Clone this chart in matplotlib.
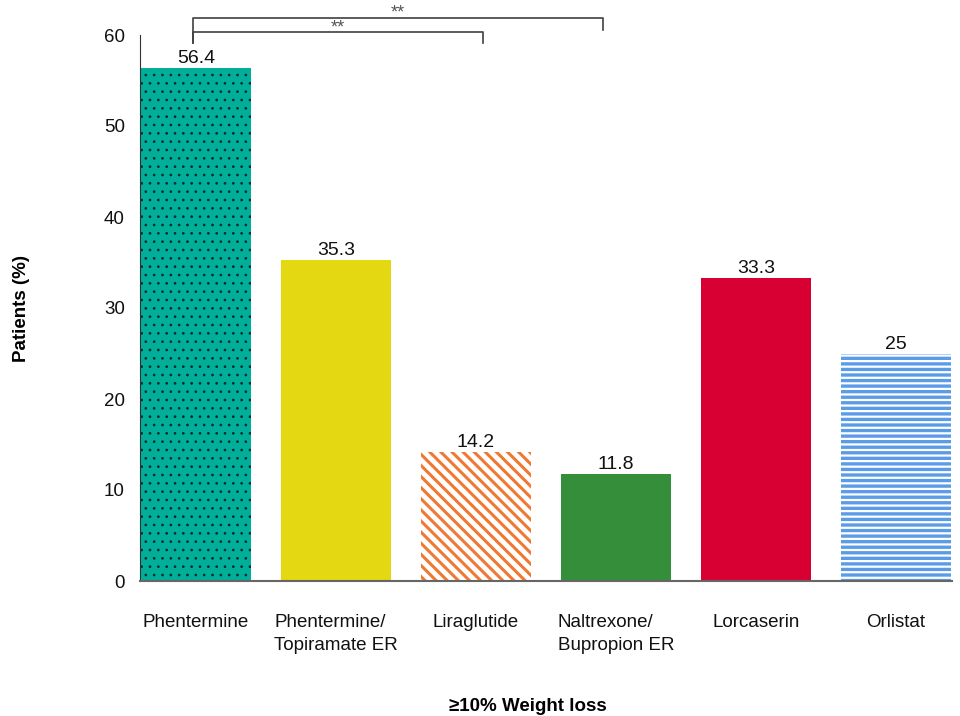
import matplotlib
matplotlib.use("Agg")
import matplotlib.pyplot as plt

plt.rcParams['font.family'] = ['Liberation Sans', 'DejaVu Sans']

categories = ["Phentermine", "Phentermine/\nTopiramate ER", "Liraglutide",
              "Naltrexone/\nBupropion ER", "Lorcaserin", "Orlistat"]
values = [56.4, 35.3, 14.2, 11.8, 33.3, 25]
value_labels = ["56.4", "35.3", "14.2", "11.8", "33.3", "25"]
face_colors = ["#00AE9A", "#E3D811", "white", "#358E3A", "#D80032", "white"]
hatch_colors = ["#0A2A28", "#E3D811", "#F07832", "#358E3A", "#D80032", "#5B9BE8"]
hatches = ["..", None, "\\\\\\", None, None, "---"]
hatch_lw = [0.7, 1.0, 2.2, 1.0, 1.0, 2.4]

# significance brackets: (start x, end x, bar y, left drop, right drop, label)
brackets = [(-0.023, 2.05, 60.3, 59.1, 59.1, "**"),
            (-0.023, 2.906, 61.9, 59.1, 60.5, "**")]

fig = plt.figure(figsize=(9.6, 7.16), dpi=100)
ax = fig.add_axes([140/960, 135/716, 812/960, 546/716])

x = list(range(len(categories)))
for i in x:
    plt.rcParams['hatch.linewidth'] = hatch_lw[i]
    b = ax.bar(i, values[i], width=0.785, color=face_colors[i],
               edgecolor=hatch_colors[i], linewidth=0, hatch=hatches[i])
    for p in b.patches:
        if hasattr(p, "set_hatch_linewidth"):
            p.set_hatch_linewidth(hatch_lw[i])
    ax.annotate(value_labels[i], (i, values[i]), xytext=(0, 0.5),
                textcoords="offset points", ha="center", va="bottom",
                fontsize=14, color="#111111")

ax.set_xlim(-0.4, 5.4)
ax.set_ylim(0, 60)
ax.set_yticks([0, 10, 20, 30, 40, 50, 60])
ax.set_xticks(x)
ax.set_xticklabels(categories, multialignment="left", linespacing=1.45,
                   va="top")
ax.tick_params(axis="both", length=0, labelsize=13.5, colors="#111111")
ax.tick_params(axis="y", pad=11)
ax.tick_params(axis="x", pad=24)
for s in ["top", "right"]:
    ax.spines[s].set_visible(False)
ax.spines["left"].set_color("#333333")
ax.spines["bottom"].set_color("#666666")
ax.spines["bottom"].set_linewidth(1.5)

ax.set_ylabel("Patients (%)", fontsize=13.5, fontweight="bold")
ax.yaxis.set_label_coords(-0.136, 0.5)
ax.set_xlabel("≥10% Weight loss", fontsize=13.5, fontweight="bold")
ax.xaxis.set_label_coords(0.478, -0.214)

for x0, x1, yb, yl, yr, lab in brackets:
    ax.plot([x0, x0, x1, x1], [yl, yb, yb, yr], color="#404040", lw=1.2,
            clip_on=False)
    ax.text((x0 + x1) / 2, yb - 0.45, lab, ha="center", va="bottom",
            fontsize=13, color="#555555", clip_on=False)

fig.savefig("out.png", dpi=100)
